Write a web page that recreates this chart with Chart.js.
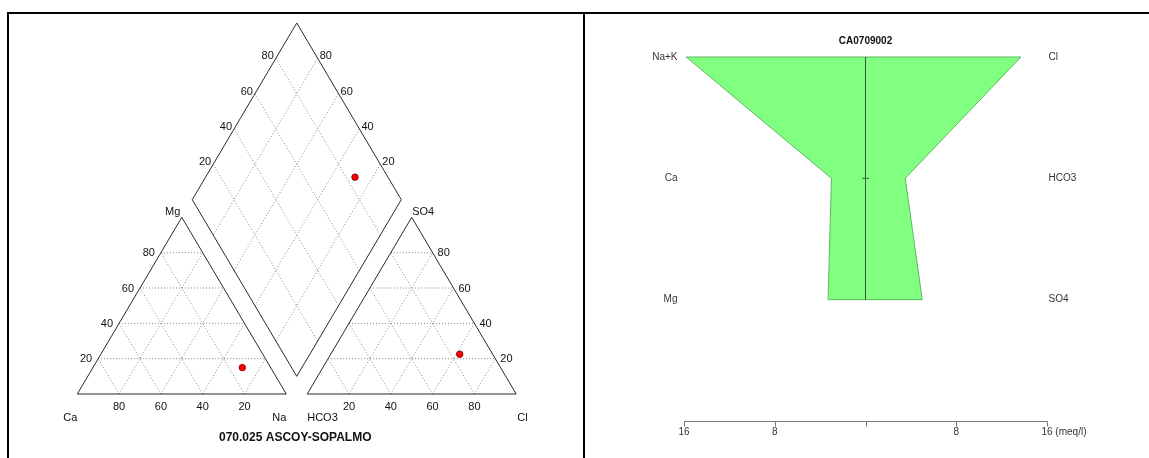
<!DOCTYPE html>
<html>
<head>
<meta charset="utf-8">
<title>Piper / Stiff</title>
<script src="https://cdn.jsdelivr.net/npm/chart.js@4/dist/chart.umd.min.js"></script>
<style>
  html, body { margin: 0; padding: 0; background: #fff; overflow: hidden; }
  body { width: 1149px; height: 458px; position: relative; }
  .frame { position: absolute; left: 7px; top: 12px; width: 1160px; height: 470px;
           border-top: 2px solid #000; border-left: 2px solid #000; }
  .divider { position: absolute; left: 583px; top: 12px; width: 2px; height: 470px; background: #000; }
  #piper { position: absolute; left: 9px; top: 14px; }
  #stiff { position: absolute; left: 586px; top: 14px; }
</style>
</head>
<body>
<div class="frame"></div>
<div class="divider"></div>
<canvas id="piper" width="573" height="444"></canvas>
<canvas id="stiff" width="563" height="444"></canvas>

<script>
  "use strict";

  // --- sample data (meq/l) ---
  const SITE_NAME = "070.025 ASCOY-SOPALMO";
  const SAMPLE_ID = "CA0709002";
  const CATIONS = ["Na+K", "Ca", "Mg"];
  const CATION_MEQ = [15.8, 3.0, 3.3];
  const ANIONS = ["Cl", "HCO3", "SO4"];
  const ANION_MEQ = [13.7, 3.5, 5.0];
  const PERCENT_TICKS = [20, 40, 60, 80];
  const MEQ_TICKS = [-16, -8, 0, 8, 16];

  const FONT = '"Liberation Sans", Arial, sans-serif';
  const TICK_FONT = "11px " + FONT;
  const TITLE_FONT = "bold 12px " + FONT;
  const GRID_COLOR = "#888";
  const EDGE_COLOR = "#2a2a2a";

  // --- percentages for the Piper plot ---
  const sum = (arr) => arr.reduce((s, v) => s + v, 0);
  const catTotal = sum(CATION_MEQ);
  const anTotal = sum(ANION_MEQ);
  const pNa = CATION_MEQ[0] / catTotal * 100;
  const pCa = CATION_MEQ[1] / catTotal * 100;
  const pMg = CATION_MEQ[2] / catTotal * 100;
  const pCl = ANION_MEQ[0] / anTotal * 100;
  const pHCO3 = ANION_MEQ[1] / anTotal * 100;
  const pSO4 = ANION_MEQ[2] / anTotal * 100;

  // triangle side = 100 units, gap between triangles = 10
  const H = 50 * Math.sqrt(3);
  const GAP = 10;

  // r = share of right corner, t = share of top corner (percent)
  const cationXY = (r, t) => ({ x: r + t / 2, y: t * H / 100 });
  const anionXY = (r, t) => ({ x: 100 + GAP + r + t / 2, y: t * H / 100 });
  // a = SO4+Cl share, c = Ca+Mg share (percent)
  const diamondXY = (a, c) => ({
    x: 100 + GAP / 2 + (a - c) / 2,
    y: GAP * H / 100 + (a + c) * H / 100
  });

  function lineSet(points, color, dash) {
    return {
      data: points,
      showLine: true,
      borderColor: color,
      borderWidth: 1,
      borderDash: dash || [],
      pointRadius: 0,
      fill: false,
      tension: 0,
      order: 1
    };
  }

  function triangleGrid(toXY) {
    const lines = [];
    PERCENT_TICKS.forEach((v) => {
      lines.push([toXY(0, v), toXY(100 - v, v)]);
      lines.push([toXY(v, 0), toXY(v, 100 - v)]);
      lines.push([toXY(100 - v, 0), toXY(0, 100 - v)]);
    });
    return lines;
  }

  function diamondGrid() {
    const lines = [];
    PERCENT_TICKS.forEach((v) => {
      lines.push([diamondXY(v, 0), diamondXY(v, 100)]);
      lines.push([diamondXY(0, v), diamondXY(100, v)]);
    });
    return lines;
  }

  const gridLines = [].concat(triangleGrid(cationXY), triangleGrid(anionXY), diamondGrid());
  const outlines = [
    [cationXY(0, 0), cationXY(100, 0), cationXY(0, 100), cationXY(0, 0)],
    [anionXY(0, 0), anionXY(100, 0), anionXY(0, 100), anionXY(0, 0)],
    [diamondXY(0, 0), diamondXY(100, 0), diamondXY(100, 100), diamondXY(0, 100), diamondXY(0, 0)]
  ];

  const samplePoints = [
    cationXY(pNa, pMg),
    anionXY(pCl, pSO4),
    diamondXY(pSO4 + pCl, pCa + pMg)
  ];

  // text items: data point + pixel nudge
  const piperText = [];
  function addText(pt, text, align, dx, dy, font) {
    piperText.push({ pt, text, align, dx, dy, font: font || TICK_FONT });
  }
  PERCENT_TICKS.forEach((v) => {
    addText(cationXY(0, v), String(v), "right", -6, 0.5);          // Mg
    addText(cationXY(100 - v, 0), String(v), "center", 0, 13.2);   // Ca
    addText(anionXY(100 - v, v), String(v), "left", 5, 0.5);       // SO4
    addText(anionXY(v, 0), String(v), "center", 0, 13.2);          // Cl
    addText(diamondXY(v, 100), String(v), "right", -2, -2);
    addText(diamondXY(100, v), String(v), "left", 2, -2);
  });
  addText(cationXY(0, 0), "Ca", "right", 0, 24);
  addText(cationXY(100, 0), "Na", "right", 0, 24);
  addText(cationXY(0, 100), "Mg", "right", -1.5, -5.6);
  addText(anionXY(0, 0), "HCO3", "left", 0, 24);
  addText(anionXY(100, 0), "Cl", "left", 1, 24);
  addText(anionXY(0, 100), "SO4", "left", 0.5, -5.6);
  addText({ x: 100 + GAP / 2, y: 0 }, SITE_NAME, "center", -1.5, 44, TITLE_FONT);

  const textPlugin = {
    id: "piperText",
    afterDatasetsDraw(chart) {
      const { ctx, scales } = chart;
      ctx.save();
      ctx.fillStyle = "#111";
      ctx.textBaseline = "middle";
      piperText.forEach((t) => {
        ctx.font = t.font;
        ctx.textAlign = t.align;
        ctx.fillText(t.text,
          scales.x.getPixelForValue(t.pt.x) + t.dx,
          scales.y.getPixelForValue(t.pt.y) + t.dy);
      });
      ctx.restore();
    }
  };

  const piperDatasets = [
    {
      data: samplePoints,
      showLine: false,
      pointRadius: 3.2,
      pointBackgroundColor: "#ff0000",
      pointBorderColor: "#8b0000",
      pointBorderWidth: 1,
      order: 0
    }
  ]
    .concat(outlines.map((pts) => lineSet(pts, EDGE_COLOR)))
    .concat(gridLines.map((pts) => lineSet(pts, GRID_COLOR, [1, 2])));

  const baseOptions = {
    responsive: false,
    animation: false,
    devicePixelRatio: 1,
    events: [],
    layout: { padding: 0, autoPadding: false },
    plugins: { legend: { display: false }, tooltip: { enabled: false } }
  };

  // 2.09 px per unit across, 2.04 px per unit up; Ca corner at (68.3, 380)
  new Chart(document.getElementById("piper"), {
    type: "scatter",
    data: { datasets: piperDatasets },
    options: Object.assign({}, baseOptions, {
      scales: {
        x: { type: "linear", display: false, min: -68.3 / 2.09, max: (573 - 68.3) / 2.09 },
        y: { type: "linear", display: false, min: -(444 - 380) / 2.04, max: 380 / 2.04 }
      }
    }),
    plugins: [textPlugin]
  });

  // --- Stiff diagram: rows 0..2, cations left (negative), anions right ---
  const stiffShape = [
    { x: -CATION_MEQ[0], y: 0 },
    { x: -CATION_MEQ[1], y: 1 },
    { x: -CATION_MEQ[2], y: 2 },
    { x: ANION_MEQ[2], y: 2 },
    { x: ANION_MEQ[1], y: 1 },
    { x: ANION_MEQ[0], y: 0 },
    { x: -CATION_MEQ[0], y: 0 }
  ];

  const stiffPlugin = {
    id: "stiffText",
    afterDatasetsDraw(chart) {
      const { ctx, scales } = chart;
      const x = scales.x, y = scales.y;
      ctx.save();
      ctx.textBaseline = "middle";

      ctx.fillStyle = "#111";
      ctx.font = "bold 10px " + FONT;
      ctx.textAlign = "center";
      ctx.fillText(SAMPLE_ID, x.getPixelForValue(0), y.getPixelForValue(0) - 16);

      ctx.fillStyle = "#333";
      ctx.font = "10px " + FONT;
      CATIONS.forEach((name, i) => {
        ctx.textAlign = "right";
        ctx.fillText(name, x.getPixelForValue(-16) - 6.5, y.getPixelForValue(i));
      });
      ANIONS.forEach((name, i) => {
        ctx.textAlign = "left";
        ctx.fillText(name, x.getPixelForValue(16) + 1.5, y.getPixelForValue(i));
      });

      // meq/l axis
      const ay = Math.round(y.getPixelForValue(3)) + 0.5;
      ctx.strokeStyle = "#777";
      ctx.lineWidth = 1;
      ctx.beginPath();
      ctx.moveTo(x.getPixelForValue(MEQ_TICKS[0]), ay);
      ctx.lineTo(x.getPixelForValue(MEQ_TICKS[MEQ_TICKS.length - 1]), ay);
      MEQ_TICKS.forEach((v) => {
        const px = Math.round(x.getPixelForValue(v)) + 0.5;
        ctx.moveTo(px, ay);
        ctx.lineTo(px, ay + 5);
      });
      ctx.stroke();

      ctx.fillStyle = "#333";
      MEQ_TICKS.forEach((v, i) => {
        if (v === 0) return;
        const px = x.getPixelForValue(v);
        const label = String(Math.abs(v));
        if (i === MEQ_TICKS.length - 1) {
          ctx.textAlign = "left";
          ctx.fillText(label + " (meq/l)", px - ctx.measureText(label).width / 2, ay + 10.5);
        } else {
          ctx.textAlign = "center";
          ctx.fillText(label, px, ay + 10.5);
        }
      });
      ctx.restore();
    }
  };

  // 11.344 px per meq/l, centre at x=279.5; row spacing 121.33 px, row 0 at y=43
  new Chart(document.getElementById("stiff"), {
    type: "scatter",
    data: {
      datasets: [
        {
          data: [{ x: 0, y: 0 }, { x: 0, y: 2 }],
          showLine: true, borderColor: "#3d553d", borderWidth: 1, pointRadius: 0, order: 0
        },
        {
          data: [{ x: -0.3, y: 1 }, { x: 0.3, y: 1 }],
          showLine: true, borderColor: "#3d553d", borderWidth: 1, pointRadius: 0, order: 0
        },
        {
          data: stiffShape,
          showLine: true,
          fill: "shape",
          backgroundColor: "#80ff80",
          borderColor: "#5cb85c",
          borderWidth: 1,
          pointRadius: 0,
          tension: 0,
          order: 1
        }
      ]
    },
    options: Object.assign({}, baseOptions, {
      scales: {
        x: { type: "linear", display: false, min: -279.5 / 11.344, max: (563 - 279.5) / 11.344 },
        y: { type: "linear", display: false, reverse: true, min: -43 / 121.33, max: (444 - 43) / 121.33 }
      }
    }),
    plugins: [stiffPlugin]
  });
</script>
</body>
</html>
